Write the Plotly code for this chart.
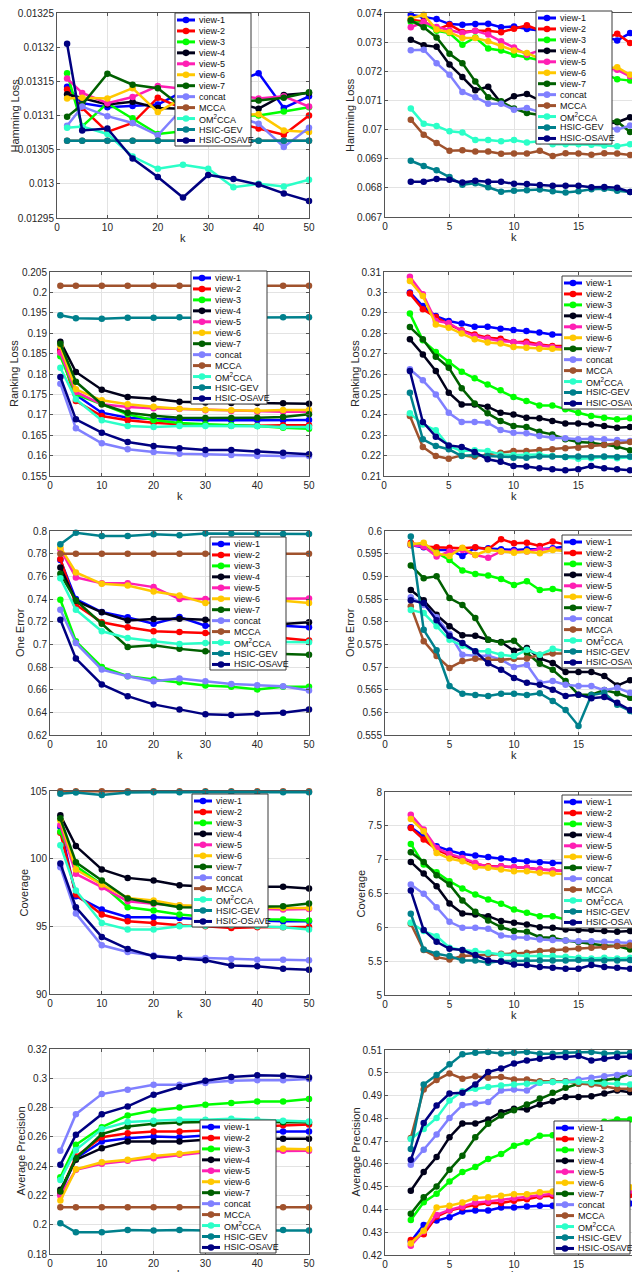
import plotly.graph_objects as go

# ---- series definitions ----
SERIES = ["view-1", "view-2", "view-3", "view-4", "view-5", "view-6", "view-7",
          "concat", "MCCA", "OM2CCA", "HSIC-GEV", "HSIC-OSAVE"]
LEGEND_LABELS = ["view-1", "view-2", "view-3", "view-4", "view-5", "view-6", "view-7",
                 "concat", "MCCA", "OM<sup>2</sup>CCA", "HSIC-GEV", "HSIC-OSAVE"]
COLORS = ["#0000FF", "#FF0000", "#00FF00", "#00001A", "#FF1FB4", "#FFC800", "#006000",
          "#8080FF", "#A0522D", "#2BFFC8", "#00808C", "#000080"]

K_LEFT = [2, 5, 10, 15, 20, 25, 30, 35, 40, 45, 50]
K_RIGHT = [2, 3, 4, 5, 6, 7, 8, 9, 10, 11, 12, 13, 14, 15, 16, 17, 18, 19, 20]
K_LEFT_TICKS = [0, 10, 20, 30, 40, 50]
K_RIGHT_TICKS = [0, 5, 10, 15, 20]

# ---- Hamming Loss ----
HL_LEFT = [
    [0.013142, 0.013118, 0.013112, 0.013114, 0.013116, 0.013135, 0.01313, 0.013148, 0.013162, 0.013111, 0.013128],
    [0.013138, 0.013111, 0.013076, 0.013089, 0.013126, 0.01311, 0.0131, 0.01309, 0.013081, 0.013072, 0.0131],
    [0.013162, 0.013084, 0.013118, 0.013096, 0.013073, 0.013077, 0.01309, 0.0131, 0.0131, 0.013106, 0.013112],
    [0.013131, 0.013125, 0.013116, 0.01312, 0.013111, 0.01311, 0.01312, 0.01312, 0.01311, 0.01313, 0.013133],
    [0.013154, 0.013133, 0.013118, 0.013127, 0.013143, 0.013139, 0.01313, 0.01313, 0.013125, 0.013128, 0.013113],
    [0.013125, 0.013126, 0.013125, 0.01314, 0.013105, 0.013126, 0.01311, 0.0131, 0.013102, 0.013078, 0.013076],
    [0.013098, 0.013116, 0.013161, 0.013145, 0.01314, 0.013111, 0.01312, 0.01312, 0.013122, 0.013126, 0.013134],
    [0.013085, 0.013113, 0.013099, 0.013089, 0.013071, 0.013111, 0.01311, 0.0131, 0.013088, 0.013054, 0.013082],
    [0.013063, 0.013063, 0.013063, 0.013063, 0.013063, 0.013063, 0.013063, 0.013063, 0.013063, 0.013063, 0.013063],
    [0.013082, 0.013084, 0.013073, 0.01304, 0.013022, 0.013028, 0.013022, 0.012995, 0.013, 0.012996, 0.013006],
    [0.013063, 0.013063, 0.013063, 0.013063, 0.013063, 0.013063, 0.013063, 0.013063, 0.013063, 0.013063, 0.013063],
    [0.013205, 0.013078, 0.013081, 0.013037, 0.01301, 0.01298, 0.013013, 0.013007, 0.012999, 0.012986, 0.012975],
]
HL_RIGHT = [
    [0.07394, 0.07386, 0.07379, 0.07362, 0.0736, 0.07362, 0.07363, 0.07351, 0.07354, 0.07345, 0.0734, 0.0733, 0.0732, 0.0732, 0.0732, 0.0732, 0.07306, 0.07331, 0.07308],
    [0.07377, 0.07371, 0.07343, 0.0736, 0.07335, 0.07339, 0.07339, 0.07334, 0.07346, 0.07358, 0.0734, 0.0733, 0.0732, 0.0732, 0.0731, 0.0731, 0.07329, 0.07297, 0.0729],
    [0.07369, 0.07366, 0.07339, 0.07331, 0.07291, 0.07316, 0.07278, 0.07271, 0.07257, 0.07248, 0.0724, 0.0723, 0.0722, 0.0722, 0.0721, 0.0719, 0.07173, 0.07168, 0.07154],
    [0.07308, 0.07289, 0.07284, 0.07223, 0.0718, 0.07135, 0.07147, 0.07091, 0.07114, 0.07122, 0.071, 0.0706, 0.0704, 0.0703, 0.0702, 0.0702, 0.07025, 0.07042, 0.07048],
    [0.07351, 0.07369, 0.07352, 0.07341, 0.07331, 0.07339, 0.07326, 0.07303, 0.07282, 0.07257, 0.07271, 0.0726, 0.0725, 0.0724, 0.0723, 0.0721, 0.07205, 0.07183, 0.07168],
    [0.07381, 0.07394, 0.07343, 0.07334, 0.07314, 0.07314, 0.07303, 0.07286, 0.07271, 0.07263, 0.07243, 0.0724, 0.0723, 0.0722, 0.0722, 0.0721, 0.07214, 0.07188, 0.07196],
    [0.07375, 0.07351, 0.07316, 0.0726, 0.07228, 0.07165, 0.07111, 0.07097, 0.07072, 0.07057, 0.0705, 0.0704, 0.0703, 0.0703, 0.0702, 0.0703, 0.07028, 0.06992, 0.06992],
    [0.07272, 0.07274, 0.07228, 0.07188, 0.07129, 0.07111, 0.07089, 0.07089, 0.07068, 0.07074, 0.0706, 0.0704, 0.0703, 0.0702, 0.0702, 0.0701, 0.07, 0.07014, 0.07],
    [0.07034, 0.06982, 0.06954, 0.06927, 0.06929, 0.06925, 0.06925, 0.06917, 0.06918, 0.06918, 0.06927, 0.06909, 0.06919, 0.06918, 0.06914, 0.06919, 0.06918, 0.06913, 0.06922],
    [0.07072, 0.0702, 0.07012, 0.06994, 0.0699, 0.06964, 0.06964, 0.0696, 0.06964, 0.06956, 0.0696, 0.0695, 0.0695, 0.0695, 0.06948, 0.06945, 0.06943, 0.0695, 0.06942],
    [0.06893, 0.06875, 0.0686, 0.06837, 0.06811, 0.06816, 0.06802, 0.06787, 0.0679, 0.06792, 0.06794, 0.06788, 0.06784, 0.06788, 0.06795, 0.06797, 0.0679, 0.06786, 0.0679],
    [0.06821, 0.06821, 0.0683, 0.06828, 0.06818, 0.06824, 0.06821, 0.06821, 0.06814, 0.06813, 0.0681, 0.06807, 0.06807, 0.06807, 0.06802, 0.06803, 0.068, 0.06786, 0.06789],
]

# ---- Ranking Loss ----
RL_LEFT = [
    [0.18605, 0.17485, 0.17052, 0.1693, 0.16897, 0.16873, 0.16864, 0.16864, 0.16864, 0.16864, 0.16873],
    [0.18564, 0.17338, 0.16971, 0.16864, 0.16807, 0.16766, 0.1675, 0.16734, 0.16734, 0.16742, 0.16742],
    [0.18433, 0.17502, 0.17257, 0.17011, 0.16873, 0.16799, 0.16766, 0.1675, 0.16725, 0.16685, 0.1666],
    [0.18792, 0.1805, 0.17616, 0.17436, 0.17396, 0.17322, 0.173, 0.1729, 0.1729, 0.17281, 0.17273],
    [0.18523, 0.17559, 0.17257, 0.17191, 0.17158, 0.17142, 0.1711, 0.17093, 0.17077, 0.17077, 0.17077],
    [0.18686, 0.17624, 0.17355, 0.17257, 0.17199, 0.1715, 0.17126, 0.1711, 0.17101, 0.17118, 0.17118],
    [0.18743, 0.17812, 0.17257, 0.17052, 0.16979, 0.1693, 0.16922, 0.16922, 0.1693, 0.16946, 0.17011],
    [0.17763, 0.16668, 0.16301, 0.16154, 0.16088, 0.16047, 0.16031, 0.16015, 0.1599, 0.1599, 0.1599],
    [0.2016, 0.2016, 0.2016, 0.2016, 0.2016, 0.2016, 0.2016, 0.2016, 0.2016, 0.2016, 0.2016],
    [0.18155, 0.17379, 0.16864, 0.16725, 0.16701, 0.16725, 0.16725, 0.16725, 0.16717, 0.16701, 0.16701],
    [0.19438, 0.19364, 0.19356, 0.19381, 0.19381, 0.19389, 0.1938, 0.1938, 0.1938, 0.19389, 0.19389],
    [0.17926, 0.16889, 0.16562, 0.16333, 0.16235, 0.16178, 0.16137, 0.16137, 0.16096, 0.16072, 0.16031],
]
RL_RIGHT = [
    [0.3, 0.2933, 0.2884, 0.286, 0.2847, 0.2832, 0.2832, 0.2822, 0.2816, 0.2811, 0.2803, 0.2794, 0.2794, 0.2792, 0.2791, 0.279, 0.279, 0.279, 0.279],
    [0.2994, 0.2917, 0.2879, 0.2843, 0.2814, 0.2794, 0.2778, 0.2773, 0.2756, 0.2758, 0.2745, 0.2737, 0.2737, 0.2733, 0.273, 0.2728, 0.2725, 0.2722, 0.272],
    [0.2896, 0.2765, 0.2708, 0.2659, 0.2611, 0.2579, 0.2549, 0.252, 0.2487, 0.2468, 0.2446, 0.2446, 0.2427, 0.241, 0.2394, 0.2386, 0.2378, 0.2383, 0.2376],
    [0.277, 0.2696, 0.2615, 0.2508, 0.2451, 0.2451, 0.244, 0.241, 0.2402, 0.2386, 0.2383, 0.237, 0.2357, 0.2357, 0.2353, 0.2345, 0.2337, 0.234, 0.2334],
    [0.3077, 0.2991, 0.286, 0.285, 0.2811, 0.2786, 0.2773, 0.2762, 0.2757, 0.2749, 0.2742, 0.2732, 0.2729, 0.2727, 0.2725, 0.2724, 0.2723, 0.2722, 0.2721],
    [0.3056, 0.2982, 0.2843, 0.2827, 0.2798, 0.277, 0.2754, 0.2749, 0.2732, 0.2729, 0.2724, 0.2724, 0.2721, 0.2715, 0.271, 0.2705, 0.27, 0.2698, 0.2696],
    [0.283, 0.277, 0.2685, 0.2631, 0.253, 0.2456, 0.2407, 0.237, 0.2345, 0.234, 0.2317, 0.2304, 0.228, 0.2267, 0.2263, 0.2255, 0.2244, 0.2226, 0.2226],
    [0.2623, 0.2569, 0.25, 0.241, 0.2365, 0.2365, 0.2361, 0.2325, 0.2312, 0.2309, 0.2296, 0.2288, 0.2285, 0.228, 0.2283, 0.228, 0.2276, 0.2272, 0.2275],
    [0.2394, 0.2242, 0.2198, 0.2185, 0.2201, 0.2195, 0.2206, 0.2214, 0.2222, 0.2222, 0.2227, 0.2231, 0.2236, 0.2239, 0.2247, 0.2252, 0.226, 0.2267, 0.2272],
    [0.2407, 0.2353, 0.2324, 0.2247, 0.2222, 0.2226, 0.2222, 0.2206, 0.2203, 0.2203, 0.2206, 0.2198, 0.2193, 0.2185, 0.2187, 0.2193, 0.2187, 0.2193, 0.2198],
    [0.2508, 0.228, 0.2247, 0.2231, 0.2198, 0.2203, 0.2198, 0.2195, 0.219, 0.219, 0.2195, 0.2195, 0.2193, 0.2195, 0.2193, 0.2195, 0.2193, 0.2195, 0.2201],
    [0.2615, 0.2365, 0.2293, 0.225, 0.2242, 0.2218, 0.2182, 0.217, 0.2149, 0.2146, 0.2138, 0.2133, 0.2128, 0.2133, 0.2149, 0.2138, 0.2133, 0.2128, 0.2129],
]

# ---- One Error ----
OE_LEFT = [
    [0.7745, 0.7399, 0.7285, 0.7238, 0.7182, 0.7241, 0.7164, 0.717, 0.717, 0.7165, 0.715],
    [0.7754, 0.7349, 0.7194, 0.715, 0.7115, 0.7109, 0.71, 0.7075, 0.706, 0.7055, 0.7033],
    [0.7393, 0.7027, 0.6801, 0.6719, 0.669, 0.6666, 0.6637, 0.6625, 0.6602, 0.6625, 0.6625],
    [0.7678, 0.7384, 0.7282, 0.7211, 0.7223, 0.7226, 0.7217, 0.72, 0.719, 0.718, 0.7194],
    [0.7839, 0.759, 0.754, 0.754, 0.7505, 0.7399, 0.7399, 0.74, 0.74, 0.74, 0.7405],
    [0.7856, 0.7634, 0.7534, 0.7519, 0.7466, 0.7431, 0.7364, 0.738, 0.738, 0.7385, 0.7364],
    [0.7622, 0.7387, 0.7182, 0.6977, 0.6991, 0.696, 0.6939, 0.693, 0.692, 0.6915, 0.6909],
    [0.7305, 0.7012, 0.6777, 0.6719, 0.6675, 0.6698, 0.6675, 0.6651, 0.664, 0.6631, 0.6593],
    [0.78, 0.78, 0.78, 0.78, 0.78, 0.78, 0.78, 0.78, 0.78, 0.78, 0.78],
    [0.7584, 0.7305, 0.7115, 0.7056, 0.7027, 0.7003, 0.7012, 0.7015, 0.702, 0.702, 0.7018],
    [0.7883, 0.7985, 0.7956, 0.7956, 0.7971, 0.7962, 0.7979, 0.7979, 0.7974, 0.7974, 0.7974],
    [0.7217, 0.6874, 0.6646, 0.6543, 0.647, 0.6426, 0.6382, 0.6376, 0.6388, 0.6396, 0.6426],
]
OE_RIGHT = [
    [0.5969, 0.5964, 0.5958, 0.5958, 0.5945, 0.5963, 0.5962, 0.596, 0.5958, 0.596, 0.596, 0.5962, 0.5966, 0.5966, 0.5966, 0.5966, 0.5966, 0.5966, 0.5965],
    [0.5974, 0.5966, 0.5964, 0.5963, 0.5962, 0.5964, 0.596, 0.5982, 0.5973, 0.5974, 0.5967, 0.5977, 0.597, 0.597, 0.597, 0.597, 0.597, 0.5968, 0.5966],
    [0.5969, 0.5969, 0.5952, 0.5936, 0.5913, 0.5905, 0.5902, 0.5894, 0.5881, 0.5889, 0.587, 0.5872, 0.5867, 0.586, 0.585, 0.584, 0.583, 0.5825, 0.5819],
    [0.587, 0.5847, 0.5815, 0.579, 0.577, 0.5769, 0.576, 0.5755, 0.5736, 0.5742, 0.5719, 0.5709, 0.5689, 0.5689, 0.5689, 0.568, 0.5659, 0.5671, 0.5658],
    [0.5969, 0.5966, 0.5944, 0.5955, 0.5958, 0.5947, 0.5941, 0.5955, 0.5955, 0.5955, 0.596, 0.596, 0.5958, 0.5955, 0.5952, 0.595, 0.5948, 0.5946, 0.5945],
    [0.5971, 0.5974, 0.5951, 0.5945, 0.5963, 0.5947, 0.5958, 0.5955, 0.5952, 0.5955, 0.5951, 0.5958, 0.5955, 0.5953, 0.5952, 0.5951, 0.595, 0.595, 0.5949],
    [0.5924, 0.5896, 0.59, 0.5852, 0.5837, 0.5808, 0.576, 0.5754, 0.5758, 0.5731, 0.5707, 0.5694, 0.5669, 0.5639, 0.5639, 0.5649, 0.5642, 0.5632, 0.5619],
    [0.5854, 0.5837, 0.581, 0.5773, 0.5727, 0.5725, 0.5725, 0.5716, 0.57, 0.5705, 0.5665, 0.5669, 0.5661, 0.5658, 0.5658, 0.5649, 0.5654, 0.5643, 0.5636],
    [0.5834, 0.5757, 0.5724, 0.5698, 0.5713, 0.5718, 0.5716, 0.5716, 0.5718, 0.5719, 0.5727, 0.573, 0.573, 0.573, 0.5731, 0.5732, 0.5733, 0.5734, 0.5735],
    [0.5826, 0.5819, 0.579, 0.576, 0.5747, 0.5735, 0.5735, 0.5727, 0.5724, 0.5738, 0.5727, 0.574, 0.5735, 0.5737, 0.5738, 0.574, 0.574, 0.5741, 0.5743],
    [0.5988, 0.5782, 0.5737, 0.5658, 0.5641, 0.5638, 0.5636, 0.5641, 0.5641, 0.5638, 0.5642, 0.5625, 0.5605, 0.557, 0.5638, 0.5643, 0.5617, 0.5603, 0.557],
    [0.5847, 0.5841, 0.5803, 0.5769, 0.5753, 0.5735, 0.5708, 0.5694, 0.5676, 0.5665, 0.5661, 0.565, 0.5636, 0.5639, 0.5631, 0.5634, 0.5621, 0.5605, 0.5604],
]

# ---- Coverage ----
CV_LEFT = [
    [102.34, 97.23, 96.24, 95.67, 95.67, 95.62, 95.5, 95.45, 95.4, 95.38, 95.38],
    [101.92, 97.35, 95.87, 95.38, 95.25, 95.08, 95.0, 94.88, 94.93, 94.93, 94.95],
    [101.99, 99.45, 98.09, 96.41, 96.17, 95.87, 95.7, 95.6, 95.5, 95.5, 95.43],
    [103.2, 100.93, 99.2, 98.58, 98.39, 98.04, 97.95, 97.93, 97.9, 97.92, 97.8],
    [102.48, 98.88, 97.89, 96.86, 96.66, 96.54, 96.4, 96.35, 96.3, 96.24, 96.29],
    [102.83, 99.2, 98.09, 97.1, 96.91, 96.56, 96.5, 96.45, 96.4, 96.36, 96.36],
    [102.98, 99.74, 98.39, 97.06, 96.73, 96.41, 96.4, 96.4, 96.45, 96.49, 96.69],
    [99.37, 95.94, 93.6, 93.11, 92.84, 92.66, 92.66, 92.59, 92.54, 92.54, 92.49],
    [104.98, 104.98, 104.98, 104.98, 104.98, 104.98, 104.98, 104.98, 104.98, 104.98, 104.98],
    [101.0, 97.65, 95.25, 94.76, 94.76, 95.0, 95.05, 95.08, 95.0, 94.93, 94.76],
    [104.8, 104.88, 104.7, 104.88, 104.9, 104.9, 104.92, 104.92, 104.9, 104.9, 104.9],
    [99.65, 96.41, 94.22, 93.33, 92.79, 92.66, 92.49, 92.1, 92.05, 91.87, 91.8],
]
CV_RIGHT = [
    [7.479, 7.346, 7.198, 7.134, 7.085, 7.06, 7.041, 7.016, 6.992, 6.977, 6.962, 6.952, 6.95, 6.948, 6.946, 6.945, 6.944, 6.943, 6.942],
    [7.469, 7.297, 7.149, 7.065, 7.016, 6.938, 6.903, 6.903, 6.888, 6.879, 6.854, 6.839, 6.83, 6.82, 6.81, 6.805, 6.8, 6.795, 6.79],
    [7.233, 6.928, 6.815, 6.682, 6.574, 6.485, 6.411, 6.347, 6.264, 6.214, 6.165, 6.165, 6.116, 6.082, 6.06, 6.04, 6.03, 6.02, 6.018],
    [6.967, 6.795, 6.608, 6.352, 6.205, 6.19, 6.165, 6.092, 6.067, 6.042, 6.003, 5.993, 5.969, 5.959, 5.959, 5.944, 5.934, 5.944, 5.91],
    [7.665, 7.444, 7.174, 7.085, 7.026, 6.952, 6.893, 6.903, 6.888, 6.879, 6.854, 6.839, 6.829, 6.82, 6.81, 6.8, 6.79, 6.785, 6.78],
    [7.602, 7.42, 7.1, 7.016, 6.977, 6.893, 6.879, 6.854, 6.829, 6.829, 6.805, 6.795, 6.79, 6.78, 6.77, 6.76, 6.75, 6.74, 6.731],
    [7.11, 6.967, 6.77, 6.633, 6.396, 6.229, 6.101, 6.003, 5.944, 5.934, 5.855, 5.846, 5.806, 5.782, 5.762, 5.732, 5.723, 5.673, 5.659],
    [6.633, 6.495, 6.298, 6.082, 5.993, 5.993, 5.978, 5.88, 5.855, 5.846, 5.821, 5.811, 5.806, 5.796, 5.796, 5.786, 5.782, 5.772, 5.762],
    [6.052, 5.664, 5.56, 5.526, 5.575, 5.585, 5.6, 5.609, 5.624, 5.624, 5.649, 5.659, 5.673, 5.688, 5.698, 5.708, 5.723, 5.732, 5.747],
    [6.067, 5.944, 5.87, 5.698, 5.664, 5.649, 5.624, 5.6, 5.585, 5.575, 5.575, 5.575, 5.565, 5.55, 5.541, 5.55, 5.541, 5.55, 5.56],
    [6.2, 5.673, 5.609, 5.575, 5.511, 5.511, 5.477, 5.501, 5.501, 5.511, 5.511, 5.511, 5.511, 5.516, 5.511, 5.511, 5.511, 5.516, 5.516],
    [6.544, 5.959, 5.787, 5.683, 5.664, 5.59, 5.511, 5.491, 5.452, 5.442, 5.413, 5.403, 5.388, 5.388, 5.442, 5.413, 5.403, 5.388, 5.393],
]

# ---- Average Precision ----
AP_LEFT = [
    [0.2211, 0.2454, 0.2568, 0.2591, 0.2603, 0.2598, 0.261, 0.262, 0.263, 0.2637, 0.2637],
    [0.222, 0.2466, 0.2598, 0.2625, 0.2637, 0.2637, 0.2644, 0.266, 0.267, 0.268, 0.2685],
    [0.2324, 0.2546, 0.2666, 0.2746, 0.278, 0.2801, 0.2819, 0.2831, 0.2842, 0.2842, 0.2858],
    [0.2238, 0.2443, 0.2523, 0.2568, 0.2568, 0.2568, 0.258, 0.2585, 0.2587, 0.2587, 0.2587],
    [0.2197, 0.2375, 0.2416, 0.2436, 0.2454, 0.2477, 0.2495, 0.25, 0.2503, 0.2505, 0.2505],
    [0.2165, 0.2379, 0.2427, 0.2443, 0.247, 0.2484, 0.2505, 0.251, 0.2515, 0.2518, 0.2516],
    [0.2226, 0.2454, 0.2619, 0.2671, 0.2689, 0.2698, 0.2701, 0.2703, 0.2703, 0.27, 0.27],
    [0.2505, 0.2755, 0.2892, 0.2922, 0.2956, 0.2956, 0.2967, 0.2983, 0.2986, 0.2986, 0.2995],
    [0.212, 0.212, 0.212, 0.212, 0.212, 0.212, 0.212, 0.212, 0.212, 0.212, 0.212],
    [0.2306, 0.2511, 0.2653, 0.2701, 0.271, 0.2717, 0.2717, 0.2723, 0.2717, 0.271, 0.2705],
    [0.201, 0.1948, 0.1948, 0.1964, 0.196, 0.1964, 0.196, 0.196, 0.196, 0.1964, 0.196],
    [0.2409, 0.2614, 0.2755, 0.2808, 0.2888, 0.294, 0.2983, 0.3008, 0.302, 0.3018, 0.3006],
]
AP_RIGHT = [
    [0.4259, 0.4332, 0.4351, 0.4366, 0.4391, 0.4395, 0.4395, 0.4408, 0.4408, 0.4413, 0.4416, 0.4416, 0.442, 0.442, 0.4422, 0.4424, 0.4425, 0.4426, 0.4428],
    [0.4266, 0.4291, 0.4369, 0.4395, 0.4408, 0.442, 0.4428, 0.4428, 0.4438, 0.4445, 0.4457, 0.446, 0.4455, 0.4458, 0.446, 0.4462, 0.4463, 0.4464, 0.4464],
    [0.4354, 0.4432, 0.4469, 0.4523, 0.4564, 0.4586, 0.4621, 0.4643, 0.468, 0.4695, 0.4724, 0.4726, 0.474, 0.476, 0.4775, 0.4785, 0.4795, 0.4795, 0.4802],
    [0.4482, 0.4564, 0.463, 0.4717, 0.4777, 0.4777, 0.4795, 0.4827, 0.4842, 0.4839, 0.4861, 0.4875, 0.4894, 0.4894, 0.4897, 0.4909, 0.4922, 0.4915, 0.493],
    [0.4241, 0.4303, 0.4376, 0.4398, 0.4413, 0.443, 0.4435, 0.4442, 0.445, 0.4457, 0.4461, 0.4469, 0.447, 0.4472, 0.4475, 0.4478, 0.448, 0.4483, 0.4486],
    [0.4251, 0.4307, 0.4408, 0.4416, 0.443, 0.445, 0.4454, 0.446, 0.4467, 0.4467, 0.4475, 0.4479, 0.448, 0.4485, 0.4488, 0.449, 0.4493, 0.4497, 0.4501],
    [0.4381, 0.4453, 0.4501, 0.4574, 0.4636, 0.4717, 0.4776, 0.4812, 0.4836, 0.4861, 0.4887, 0.4912, 0.4934, 0.4952, 0.4961, 0.4968, 0.4975, 0.4996, 0.5012],
    [0.4596, 0.4662, 0.4729, 0.4802, 0.4858, 0.4865, 0.4872, 0.4922, 0.4927, 0.4922, 0.4956, 0.4959, 0.4963, 0.4971, 0.4978, 0.4985, 0.499, 0.5, 0.4997],
    [0.4714, 0.4927, 0.4968, 0.4997, 0.4974, 0.4985, 0.4978, 0.4981, 0.4971, 0.4971, 0.4963, 0.4963, 0.4963, 0.4953, 0.4949, 0.4941, 0.493, 0.493, 0.4919],
    [0.4709, 0.4753, 0.4802, 0.4878, 0.4919, 0.493, 0.4938, 0.4944, 0.4949, 0.4952, 0.4956, 0.4959, 0.4959, 0.4961, 0.4956, 0.4953, 0.4952, 0.4949, 0.4941],
    [0.4665, 0.4949, 0.499, 0.5037, 0.5081, 0.5088, 0.5091, 0.5085, 0.5088, 0.5091, 0.5084, 0.5084, 0.5088, 0.5088, 0.5091, 0.5085, 0.5085, 0.5088, 0.5091],
    [0.4618, 0.478, 0.4856, 0.4909, 0.4912, 0.4949, 0.5003, 0.5019, 0.5041, 0.5054, 0.5062, 0.5069, 0.5069, 0.5074, 0.5054, 0.5062, 0.5069, 0.5071, 0.5078],
]

# ---- y tick values / labels ----
HL_LEFT_TICKS = [0.01295, 0.013, 0.01305, 0.0131, 0.01315, 0.0132, 0.01325]
HL_LEFT_LABELS = ["0.01295", "0.013", "0.01305", "0.0131", "0.01315", "0.0132", "0.01325"]
HL_RIGHT_TICKS = [0.067, 0.068, 0.069, 0.07, 0.071, 0.072, 0.073, 0.074]
HL_RIGHT_LABELS = ["0.067", "0.068", "0.069", "0.07", "0.071", "0.072", "0.073", "0.074"]
RL_LEFT_TICKS = [0.155, 0.16, 0.165, 0.17, 0.175, 0.18, 0.185, 0.19, 0.195, 0.2, 0.205]
RL_LEFT_LABELS = ["0.155", "0.16", "0.165", "0.17", "0.175", "0.18", "0.185", "0.19", "0.195", "0.2", "0.205"]
RL_RIGHT_TICKS = [0.21, 0.22, 0.23, 0.24, 0.25, 0.26, 0.27, 0.28, 0.29, 0.3, 0.31]
RL_RIGHT_LABELS = ["0.21", "0.22", "0.23", "0.24", "0.25", "0.26", "0.27", "0.28", "0.29", "0.3", "0.31"]
OE_LEFT_TICKS = [0.62, 0.64, 0.66, 0.68, 0.7, 0.72, 0.74, 0.76, 0.78, 0.8]
OE_LEFT_LABELS = ["0.62", "0.64", "0.66", "0.68", "0.7", "0.72", "0.74", "0.76", "0.78", "0.8"]
OE_RIGHT_TICKS = [0.555, 0.56, 0.565, 0.57, 0.575, 0.58, 0.585, 0.59, 0.595, 0.6]
OE_RIGHT_LABELS = ["0.555", "0.56", "0.565", "0.57", "0.575", "0.58", "0.585", "0.59", "0.595", "0.6"]
CV_LEFT_TICKS = [90, 95, 100, 105]
CV_LEFT_LABELS = ["90", "95", "100", "105"]
CV_RIGHT_TICKS = [5, 5.5, 6, 6.5, 7, 7.5, 8]
CV_RIGHT_LABELS = ["5", "5.5", "6", "6.5", "7", "7.5", "8"]
AP_LEFT_TICKS = [0.18, 0.2, 0.22, 0.24, 0.26, 0.28, 0.3, 0.32]
AP_LEFT_LABELS = ["0.18", "0.2", "0.22", "0.24", "0.26", "0.28", "0.3", "0.32"]
AP_RIGHT_TICKS = [0.42, 0.43, 0.44, 0.45, 0.46, 0.47, 0.48, 0.49, 0.5, 0.51]
AP_RIGHT_LABELS = ["0.42", "0.43", "0.44", "0.45", "0.46", "0.47", "0.48", "0.49", "0.5", "0.51"]

W, H = 640, 1272
FONT = "Liberation Sans, Arial, sans-serif"
TXT = "#262626"

# plot box in pixels (left, top, right, bottom), legend top-left, y-title centre x
PANELS = [
    dict(data=HL_LEFT, k=K_LEFT, kt=K_LEFT_TICKS, title="Hamming Loss",
         yr=[0.01295, 0.01325], yt=HL_LEFT_TICKS, yl=HL_LEFT_LABELS,
         box=(49, 5, 301, 210), leg=(167, 5), tx=6),
    dict(data=HL_RIGHT, k=K_RIGHT, kt=K_RIGHT_TICKS, title="Hamming Loss",
         yr=[0.067, 0.074], yt=HL_RIGHT_TICKS, yl=HL_RIGHT_LABELS,
         box=(377, 5, 635, 209), leg=(528, 3), tx=342),
    dict(data=RL_LEFT, k=K_LEFT, kt=K_LEFT_TICKS, title="Ranking Loss",
         yr=[0.155, 0.205], yt=RL_LEFT_TICKS, yl=RL_LEFT_LABELS,
         box=(42, 264, 301, 468), leg=(183, 263), tx=6),
    dict(data=RL_RIGHT, k=K_RIGHT, kt=K_RIGHT_TICKS, title="Ranking Loss",
         yr=[0.21, 0.31], yt=RL_RIGHT_TICKS, yl=RL_RIGHT_LABELS,
         box=(376, 264, 635, 468), leg=(554, 268), tx=347),
    dict(data=OE_LEFT, k=K_LEFT, kt=K_LEFT_TICKS, title="One Error",
         yr=[0.62, 0.8], yt=OE_LEFT_TICKS, yl=OE_LEFT_LABELS,
         box=(42, 523, 301, 727), leg=(202, 529), tx=12),
    dict(data=OE_RIGHT, k=K_RIGHT, kt=K_RIGHT_TICKS, title="One Error",
         yr=[0.555, 0.6], yt=OE_RIGHT_TICKS, yl=OE_RIGHT_LABELS,
         box=(377, 523, 635, 727), leg=(554, 527), tx=342),
    dict(data=CV_LEFT, k=K_LEFT, kt=K_LEFT_TICKS, title="Coverage",
         yr=[90, 105], yt=CV_LEFT_TICKS, yl=CV_LEFT_LABELS,
         box=(42, 783, 301, 986), leg=(184, 786), tx=15),
    dict(data=CV_RIGHT, k=K_RIGHT, kt=K_RIGHT_TICKS, title="Coverage",
         yr=[5, 8], yt=CV_RIGHT_TICKS, yl=CV_RIGHT_LABELS,
         box=(377, 784, 635, 987), leg=(554, 787), tx=352),
    dict(data=AP_LEFT, k=K_LEFT, kt=K_LEFT_TICKS, title="Average Precision",
         yr=[0.18, 0.32], yt=AP_LEFT_TICKS, yl=AP_LEFT_LABELS,
         box=(42, 1041, 301, 1246), leg=(192, 1112), tx=12),
    dict(data=AP_RIGHT, k=K_RIGHT, kt=K_RIGHT_TICKS, title="Average Precision",
         yr=[0.42, 0.51], yt=AP_RIGHT_TICKS, yl=AP_RIGHT_LABELS,
         box=(377, 1042, 635, 1247), leg=(546, 1113), tx=347),
]


def px_x(v):
    return v / W


def px_y(v):
    return 1 - v / H


fig = go.Figure()
shapes = []
annotations = []

axis_style = dict(
    showline=True, linecolor="#555555", linewidth=1, mirror="ticks",
    ticks="inside", ticklen=3, tickcolor="#555555",
    showgrid=True, gridcolor="#e3e3e3", gridwidth=1, zeroline=False,
    tickfont=dict(family=FONT, size=10, color=TXT), automargin=False,
    ticklabeloverflow="allow",
)

for i, p in enumerate(PANELS):
    sfx = "" if i == 0 else str(i + 1)
    for name, color, ys in zip(SERIES, COLORS, p["data"]):
        fig.add_trace(go.Scatter(
            x=p["k"], y=ys, name=name, mode="lines+markers",
            line=dict(color=color, width=2.5),
            marker=dict(color=color, size=6.5),
            xaxis="x" + sfx, yaxis="y" + sfx,
            showlegend=False, cliponaxis=False,
        ))

    l, t, r, b = p["box"]
    lo, hi = p["yr"]
    eps = (hi - lo) * 1e-6
    fig.layout["xaxis" + sfx] = dict(
        axis_style, domain=[px_x(l), px_x(r)], anchor="y" + sfx,
        range=[0 - 1e-6, p["kt"][-1] + 1e-6], tickvals=p["kt"],
    )
    fig.layout["yaxis" + sfx] = dict(
        axis_style, domain=[px_y(b), px_y(t)], anchor="x" + sfx,
        range=[lo - eps, hi + eps], tickvals=p["yt"], ticktext=p["yl"],
    )

    # axis titles
    annotations.append(dict(xref="paper", yref="paper", x=px_x((l + r) / 2), y=px_y(b + 20),
                            xanchor="center", yanchor="middle", text="k", showarrow=False,
                            font=dict(family=FONT, size=11, color=TXT)))
    annotations.append(dict(xref="paper", yref="paper", x=px_x(p["tx"]), y=px_y((t + b) / 2),
                            xanchor="center", yanchor="middle", text=p["title"], showarrow=False,
                            textangle=-90, font=dict(family=FONT, size=11, color=TXT)))

    # legend box drawn as shapes + text
    lx, ly = p["leg"]
    lw, lh = 76, 133
    shapes.append(dict(type="rect", xref="paper", yref="paper",
                       x0=px_x(lx), x1=px_x(lx + lw), y0=px_y(ly + lh), y1=px_y(ly),
                       fillcolor="white", line=dict(color="#3a3a3a", width=1), layer="above"))
    for j, (lab, color) in enumerate(zip(LEGEND_LABELS, COLORS)):
        cy = ly + 7 + j * 10.95
        shapes.append(dict(type="line", xref="paper", yref="paper",
                           x0=px_x(lx + 2), x1=px_x(lx + 20), y0=px_y(cy), y1=px_y(cy),
                           line=dict(color=color, width=3), layer="above"))
        shapes.append(dict(type="circle", xref="paper", yref="paper",
                           x0=px_x(lx + 11 - 3.3), x1=px_x(lx + 11 + 3.3),
                           y0=px_y(cy + 3.3), y1=px_y(cy - 3.3),
                           fillcolor=color, line=dict(width=0), layer="above"))
        annotations.append(dict(xref="paper", yref="paper", x=px_x(lx + 22), y=px_y(cy),
                                xanchor="left", yanchor="middle", text=lab, showarrow=False,
                                font=dict(family=FONT, size=9, color="#111111")))

fig.update_layout(
    width=W, height=H, autosize=False,
    margin=dict(l=0, r=0, t=0, b=0),
    paper_bgcolor="white", plot_bgcolor="white",
    showlegend=False, template="none",
    shapes=shapes, annotations=annotations,
    font=dict(family=FONT, color=TXT),
)

fig.write_html("out.html")
